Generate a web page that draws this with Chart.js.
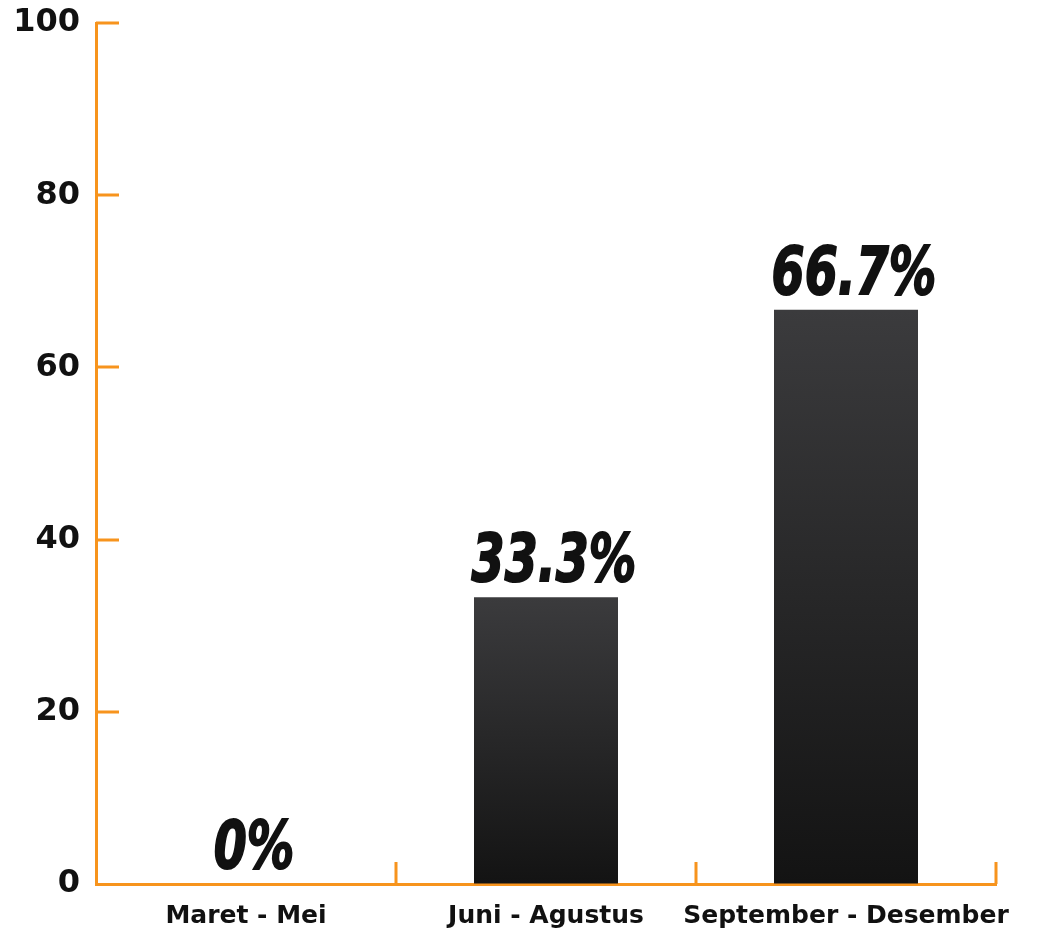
<!DOCTYPE html>
<html>
<head>
<meta charset="utf-8">
<script src="https://cdn.jsdelivr.net/npm/chart.js@4"></script>
<style>
  html, body { margin: 0; padding: 0; background: #fff; }
  #wrap { width: 1041px; height: 938px; }
</style>
</head>
<body>
<div id="wrap"><canvas id="myChart"></canvas></div>
<script>
const categories = ['Maret - Mei', 'Juni - Agustus', 'September - Desember'];
const values = [0, 33.3, 66.7];
const valueLabels = ['0%', '33.3%', '66.7%'];
const yTicks = [0, 20, 40, 60, 80, 100];

const orange = '#f7941d';

// little inward tick marks on both axes
const innerTicks = {
    id: 'innerTicks',
    afterDraw(chart) {
        const c = chart.ctx;
        const area = chart.chartArea;
        const x = chart.scales.x, y = chart.scales.y;
        c.save();
        c.strokeStyle = orange;
        c.lineWidth = 3;
        c.beginPath();
        yTicks.forEach(v => {
            if (v === 0) return;
            const py = Math.round(y.getPixelForValue(v));
            c.moveTo(area.left, py);
            c.lineTo(area.left + 23, py);
        });
        categories.forEach((cat, i) => {
            const px = Math.round(x.getPixelForValue(i + 0.5));
            c.moveTo(px, area.bottom);
            c.lineTo(px, area.bottom - 22);
        });
        c.stroke();
        c.restore();
    }
};

// condensed heavy italic labels above the bars
const valueText = {
    id: 'valueText',
    afterDatasetsDraw(chart) {
        const c = chart.ctx;
        const meta = chart.getDatasetMeta(0);
        c.save();
        c.fillStyle = '#111';
        c.font = 'italic bold 66px "DejaVu Sans", sans-serif';
        c.textAlign = 'center';
        c.textBaseline = 'alphabetic';
        c.lineWidth = 2;
        c.strokeStyle = '#111';
        meta.data.forEach((bar, i) => {
            c.save();
            c.translate(bar.x + 8, bar.y - 16);
            c.scale(0.72, 1);
            c.fillText(valueLabels[i], 0, 0);
            c.strokeText(valueLabels[i], 0, 0);
            c.restore();
        });
        c.restore();
    }
};

const ctx = document.getElementById('myChart').getContext('2d');
const myChart = new Chart(ctx, {
    type: 'bar',
    data: {
        labels: categories,
        datasets: [{
            data: values,
            backgroundColor: (context) => {
                const chart = context.chart;
                const yScale = chart.scales.y;
                if (!yScale || context.raw === undefined) return '#2a2a2a';
                const top = yScale.getPixelForValue(context.raw);
                const bottom = yScale.getPixelForValue(0);
                if (!isFinite(top) || bottom - top < 1) return '#2a2a2a';
                const g = chart.ctx.createLinearGradient(0, top, 0, bottom);
                g.addColorStop(0, '#3b3b3d');
                g.addColorStop(1, '#131313');
                return g;
            },
            borderWidth: 0,
            categoryPercentage: 1,
            barPercentage: 0.48
        }]
    },
    options: {
        responsive: true,
        maintainAspectRatio: false,
        animation: false,
        layout: {
            padding: { top: 0, right: 45, left: 0, bottom: 0 }
        },
        scales: {
            x: {
                grid: { drawOnChartArea: false, drawTicks: false },
                border: { display: true, color: orange, width: 3 },
                ticks: {
                    color: '#111',
                    padding: 17,
                    maxRotation: 0,
                    minRotation: 0,
                    autoSkip: false,
                    font: { family: '"DejaVu Sans", sans-serif', size: 25, weight: 'bold' }
                },
                afterFit(scale) { scale.height = 54; }
            },
            y: {
                min: 0,
                max: 100,
                grid: { drawOnChartArea: false, drawTicks: false },
                border: { display: true, color: orange, width: 3 },
                ticks: {
                    stepSize: 20,
                    color: '#111',
                    padding: 16,
                    font: { family: '"DejaVu Sans", sans-serif', size: 32, weight: 'bold' }
                },
                afterFit(scale) {
                    scale.width = 96;
                    scale.paddingTop = 23;
                }
            }
        },
        plugins: {
            legend: false,
            tooltip: { enabled: false }
        }
    },
    plugins: [innerTicks, valueText]
});
</script>
</body>
</html>
